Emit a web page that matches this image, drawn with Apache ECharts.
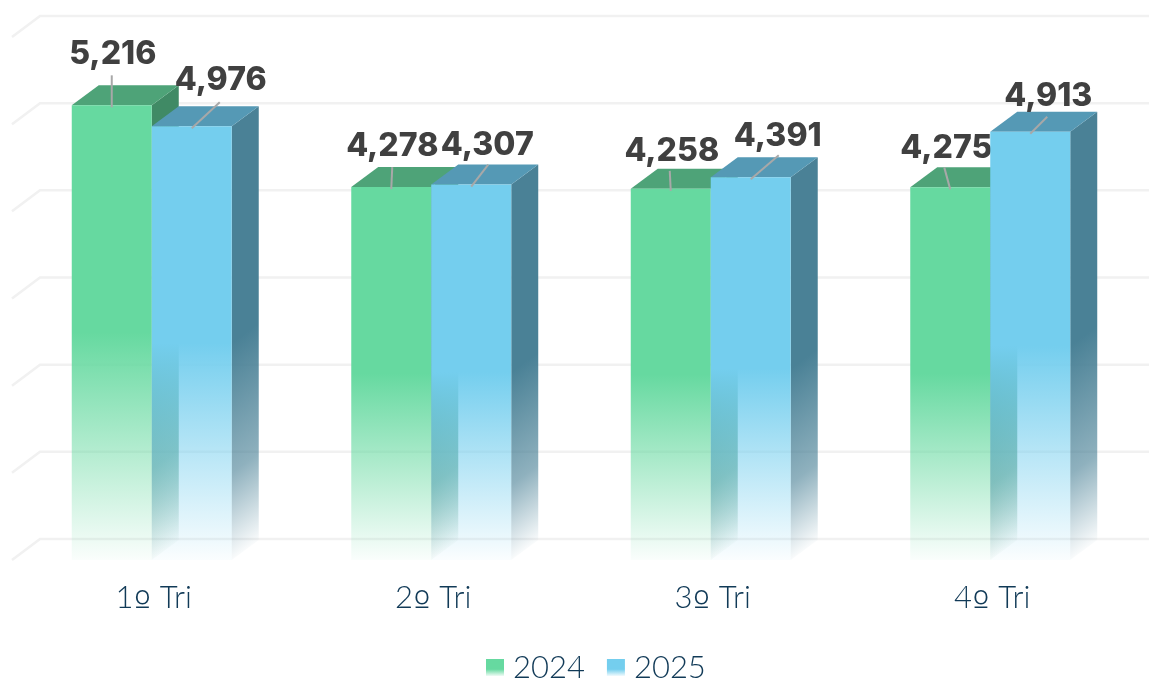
<!DOCTYPE html>
<html>
<head>
<meta charset="utf-8">
<title>Tri</title>
<style>
html,body{margin:0;padding:0;background:#fff;overflow:hidden}
#chart{width:1149px;height:678px}
</style>
<script src="https://cdn.jsdelivr.net/npm/echarts@6/dist/echarts.min.js"></script>
</head>
<body>
<div id="chart"></div>
<script>
var categories = ['1º Tri', '2º Tri', '3º Tri', '4º Tri'];
var values2024 = [5216, 4278, 4258, 4275];
var values2025 = [4976, 4307, 4391, 4913];
var gridTicks = [0, 1000, 2000, 3000, 4000, 5000, 6000];

// label centre and leader start, relative to the middle of the bar's top edge
var labelPos2024 = [[1, -51, 0, -30], [1, -41, 1, -20], [1, -37, -1, -18], [-4, -39, -6, -20]];
var labelPos2025 = [[29, -46, 28, -24], [16, -39, 17, -20], [27, -41, 28, -22], [18, -35, 17, -15]];

var DEPTH_X = 27, DEPTH_Y = -20;
var BAR_RATIO = 0.2862;
var fontFamily = 'Lato, sans-serif';

function rgba(c, a) {
    return 'rgba(' + c[0] + ',' + c[1] + ',' + c[2] + ',' + a + ')';
}

function fadeFill(c, x0, y0, x1, y1, midAlpha) {
    return new echarts.graphic.LinearGradient(x0, y0, x1, y1, [
        {offset: 0, color: rgba(c, 1)},
        {offset: 0.6, color: rgba(c, midAlpha)},
        {offset: 1, color: rgba(c, 0.03)}
    ], true);
}

function poly(points, fill) {
    return {type: 'polygon', shape: {points: points}, style: {fill: fill}};
}

function barRenderer(values, labelPos, front, top, side, leftSide) {
    return function (params, api) {
        var i = api.value(0);
        var base = api.coord([i, 0]);
        var head = api.coord([i, api.value(1)]);
        var w = api.size([1, 0])[0] * BAR_RATIO;
        var xl = leftSide ? base[0] - w : base[0];
        var xr = xl + w;
        var yt = head[1], yb = base[1];
        var ym = (yt + yb) / 2;
        var h = (yb - yt) / 2;
        // side face fades along its own slant
        var len = Math.sqrt(DEPTH_X * DEPTH_X + DEPTH_Y * DEPTH_Y);
        var nx = -DEPTH_Y / len, ny = DEPTH_X / len;
        var t = h * ny;
        var lp = labelPos[i];
        var mid = (xl + xr) / 2;
        return {
            type: 'group',
            children: [
                poly([[xr, yt], [xr + DEPTH_X, yt + DEPTH_Y], [xr + DEPTH_X, yb + DEPTH_Y], [xr, yb]],
                    fadeFill(side, xr, ym, xr + nx * t, ym + ny * t, 0.62)),
                poly([[xl, yt], [xr, yt], [xr + DEPTH_X, yt + DEPTH_Y], [xl + DEPTH_X, yt + DEPTH_Y]], rgba(top, 1)),
                poly([[xl, yt], [xr, yt], [xr, yb], [xl, yb]], fadeFill(front, xl, ym, xl, yb, 0.42)),
                {
                    type: 'line',
                    shape: {x1: mid + lp[2], y1: yt + lp[3], x2: mid, y2: yt + 2},
                    style: {stroke: '#a8a8a8', lineWidth: 2}
                },
                {
                    type: 'text',
                    style: {
                        text: echarts.format.addCommas(values[i]),
                        x: mid + lp[0],
                        y: yt + lp[1],
                        align: 'center',
                        verticalAlign: 'middle',
                        fill: '#404040',
                        font: '800 32px Inter, sans-serif'
                    }
                }
            ]
        };
    };
}

function gridRenderer(params, api) {
    var y = api.coord([0, api.value(0)])[1];
    var x0 = 12;
    return {
        type: 'polyline',
        shape: {points: [[x0, y], [x0 + 28, y - 21], [api.getWidth(), y - 21]]},
        style: {stroke: '#f1f1f1', lineWidth: 2.5, fill: 'none'}
    };
}

function pairs(values) {
    return values.map(function (v, i) { return [i, v]; });
}

function categoryLabel(name) {
    // the ordinal mark sits lower and larger than the digits in the original
    var parts = name.split('º');
    return '{n|' + parts[0] + '}{o|º}{n|' + parts[1] + '}';
}

var green = [102, 217, 160], blue = [116, 206, 238];
var textColor = '#113a57';

function legendFill(c) {
    return {
        type: 'linear', x: 0, y: 0, x2: 0, y2: 1,
        colorStops: [{offset: 0, color: rgba(c, 1)}, {offset: 0.6, color: rgba(c, 1)}, {offset: 1, color: rgba(c, 0.1)}]
    };
}

var chart = echarts.init(document.getElementById('chart'));
chart.setOption({
    animation: false,
    backgroundColor: '#fff',
    grid: {left: 12, right: 19, top: 37, bottom: 118},
    legend: {
        data: ['2024', '2025'],
        left: 481,
        top: 647,
        itemWidth: 18,
        itemHeight: 17,
        itemGap: 22,
        icon: 'rect',
        textStyle: {fontFamily: fontFamily, fontWeight: 300, fontSize: 31, color: textColor, padding: [0, 0, 0, 4]}
    },
    xAxis: {
        type: 'category',
        data: categories,
        axisLine: {show: false},
        axisTick: {show: false},
        axisLabel: {
            margin: 9,
            padding: [0, 0, 0, 4],
            formatter: categoryLabel,
            rich: {
                n: {fontFamily: fontFamily, fontWeight: 300, fontSize: 31, color: textColor},
                o: {fontFamily: 'DejaVu Sans', fontWeight: 300, fontSize: 38, color: textColor, padding: [20, 0, 0, 0]}
            }
        }
    },
    yAxis: {
        type: 'value',
        min: 0,
        max: 6000,
        interval: 1000,
        axisLine: {show: false},
        axisTick: {show: false},
        axisLabel: {show: false},
        splitLine: {show: false}
    },
    series: [
        {
            type: 'custom',
            name: 'grid',
            silent: true,
            coordinateSystem: 'cartesian2d',
            renderItem: gridRenderer,
            encode: {y: 0},
            data: gridTicks.map(function (v) { return [v]; }),
            z: 1
        },
        {
            type: 'custom',
            name: '2024',
            coordinateSystem: 'cartesian2d',
            renderItem: barRenderer(values2024, labelPos2024, green, [78, 163, 120], [64, 138, 101], true),
            encode: {x: 0, y: 1},
            itemStyle: {color: legendFill(green)},
            data: pairs(values2024),
            z: 2
        },
        {
            type: 'custom',
            name: '2025',
            coordinateSystem: 'cartesian2d',
            renderItem: barRenderer(values2025, labelPos2025, blue, [85, 153, 181], [74, 129, 150], false),
            encode: {x: 0, y: 1},
            itemStyle: {color: legendFill(blue)},
            data: pairs(values2025),
            z: 3
        }
    ]
});
</script>
</body>
</html>
